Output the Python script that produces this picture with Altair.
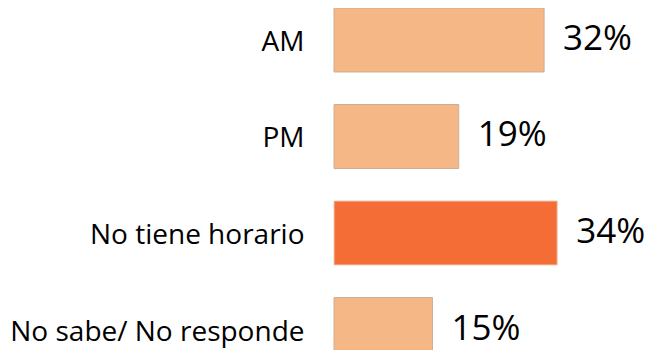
import altair as alt
import pandas as pd

categories = ["AM", "PM", "No tiene horario", "No sabe/ No responde"]
values = [32, 19, 34, 15]
labels = ["32%", "19%", "34%", "15%"]
highlight = [False, False, True, False]

df = pd.DataFrame({"cat": categories, "val": values, "lab": labels, "hi": highlight})

FONT = "Open Sans"

y_enc = alt.Y("cat:N", sort=categories,
              scale=alt.Scale(paddingInner=0.337, paddingOuter=0, range=[0, 353.5]),
              axis=alt.Axis(title=None, domain=False, ticks=False, labelFont=FONT,
                            labelFontSize=28, labelColor="#000000", labelPadding=30,
                            labelOffset=3, labelLimit=400))
x_enc = alt.X("val:Q", scale=alt.Scale(domain=[0, 46]), axis=None)

bars = alt.Chart(df).mark_bar(clip=False, strokeWidth=1).encode(
    x=x_enc, y=y_enc,
    color=alt.Color("hi:N", scale=alt.Scale(domain=[False, True], range=["#F4B785", "#F46D37"]), legend=None),
    stroke=alt.Stroke("hi:N", scale=alt.Scale(domain=[False, True], range=["#CDAE94", "#EFC9B5"]), legend=None),
)

text = alt.Chart(df).mark_text(align="left", baseline="middle", dx=19, dy=-1,
                               font=FONT, fontSize=35, color="#000000").encode(
    x=x_enc, y=y_enc, text="lab:N"
)

chart = (bars + text).properties(
    width=302, height=342,
    autosize=alt.AutoSizeParams(type="none"),
    padding={"left": 326, "top": 0, "right": 12, "bottom": 0},
).configure_view(stroke=None)

chart.save("out.html", embed_options={"renderer": "svg", "actions": False})
